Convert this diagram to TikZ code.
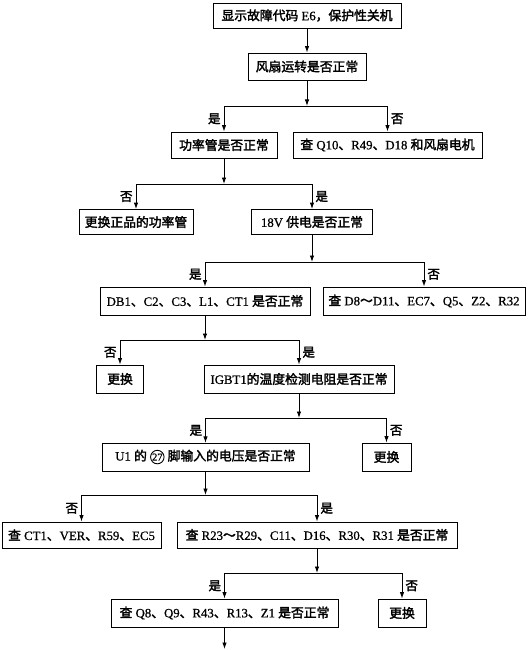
\documentclass[tikz,border=0pt]{standalone}
\usepackage{fontspec}
\setmainfont{Liberation Serif}[FakeBold=0.8]
\newfontfamily\cjk{Noto Sans CJK SC}[FakeBold=2.2]
\usetikzlibrary{arrows.meta}
\tikzset{>={Latex[width=4.5pt,length=6.5pt]}}
\newcommand{\zh}[1]{{\cjk #1}}
\newcommand{\pinno}[1]{\tikz[baseline=(pn.base)]\node[circle,draw,line width=0.9pt,minimum size=13.5pt,inner sep=0pt,font=\fontsize{10.5}{11}\selectfont] (pn) {#1};}

\begin{document}
\begin{tikzpicture}[x=1pt,y=-1pt,line width=0.9pt,
		box/.style={draw,minimum height=26pt,inner sep=2pt,font=\fontsize{12.8}{14}\selectfont},
		lab/.style={font=\fontsize{12.5}{14}\selectfont\cjk,inner sep=3pt}]
			\useasboundingbox (0,0) rectangle (529,650);
			
			% boxes
			\node[box,minimum width=188pt,minimum height=25pt] (fault) at (307,15.5) {\zh{显示故障代码} E6\zh{，保护性关机}};
			\node[box,minimum width=118pt,minimum height=27pt] (fan) at (307,66.5) {\zh{风扇运转是否正常}};
			\node[box,minimum width=106pt] (tube) at (224,145) {\zh{功率管是否正常}};
			\node[box,minimum width=189pt] (chkfan) at (387.5,145) {\zh{查} Q10\zh{、}R49\zh{、}D18 \zh{和风扇电机}};
			\node[box,minimum width=114pt,minimum height=25pt] (newtube) at (136,222) {\zh{更换正品的功率管}};
			\node[box,minimum width=121pt,minimum height=25pt] (supply) at (312,222) {18V \zh{供电是否正常}};
			\node[box,minimum width=210pt,minimum height=28pt] (bridge) at (205,301) {DB1\zh{、}C2\zh{、}C3\zh{、}L1\zh{、}CT1 \zh{是否正常}};
			\node[box,minimum width=202pt,minimum height=28pt] (chkpsu) at (424,301) {\zh{查} D8\zh{～}D11\zh{、}EC7\zh{、}Q5\zh{、}Z2\zh{、}R32};
			\node[box,minimum width=47pt,minimum height=28pt] (rep1) at (120,379) {\zh{更换}};
			\node[box,minimum width=190pt,minimum height=28pt] (igbt) at (299,379) {IGBT1\zh{的温度检测电阻是否正常}};
			\node[box,minimum width=207pt,minimum height=28pt] (pin) at (205.5,457) {U1 \zh{的} \pinno{27} \zh{脚输入的电压是否正常}};
			\node[box,minimum width=49pt,minimum height=28pt] (rep2) at (386.5,457) {\zh{更换}};
			\node[box,minimum width=159pt] (chkct) at (81.5,535) {\zh{查} CT1\zh{、}VER\zh{、}R59\zh{、}EC5};
			\node[box,minimum width=280pt] (chkr) at (317,535) {\zh{查} R23\zh{～}R29\zh{、}C11\zh{、}D16\zh{、}R30\zh{、}R31 \zh{是否正常}};
			\node[box,minimum width=227pt,minimum height=28pt] (chkq) at (224.5,613) {\zh{查} Q8\zh{、}Q9\zh{、}R43\zh{、}R13\zh{、}Z1 \zh{是否正常}};
			\node[box,minimum width=48pt,minimum height=28pt] (rep3) at (402,613) {\zh{更换}};
			
			% junctions
			\coordinate (j1) at (fan.south |- 0,106);
			\coordinate (j2) at (tube.south |- 0,184);
			\coordinate (j3) at (supply.south |- 0,262);
			\coordinate (j4) at (bridge.south |- 0,340);
			\coordinate (j5) at (igbt.south |- 0,418);
			\coordinate (j6) at (pin.south |- 0,495);
			\coordinate (j7) at (chkr.south |- 0,573);
			\coordinate (end) at (chkq.south |- 0,649);
			
			% connectors
			\draw[->] (fault) -- (fan);
			\draw[->] (fan.south) -- (j1);
			\draw[->] (j1) -| node[lab,pos=0.75,left]{是} (tube.north);
			\draw[->] (j1) -| node[lab,pos=0.75,right]{否} (chkfan.north);
			\draw[->] (tube.south) -- (j2);
			\draw[->] (j2) -| node[lab,pos=0.75,left]{否} (newtube.north);
			\draw[->] (j2) -| node[lab,pos=0.75,right]{是} (supply.north);
			\draw[->] (supply.south) -- (j3);
			\draw[->] (j3) -| node[lab,pos=0.75,left]{是} (bridge.north);
			\draw[->] (j3) -| node[lab,pos=0.75,right]{否} (chkpsu.north);
			\draw[->] (bridge.south) -- (j4);
			\draw[->] (j4) -| node[lab,pos=0.75,left]{否} (rep1.north);
			\draw[->] (j4) -| node[lab,pos=0.75,right]{是} (igbt.north);
			\draw[->] (igbt.south) -- (j5);
			\draw[->] (j5) -| node[lab,pos=0.75,left]{是} (pin.north);
			\draw[->] (j5) -| node[lab,pos=0.75,right]{否} (rep2.north);
			\draw[->] (pin.south) -- (j6);
			\draw[->] (j6) -| node[lab,pos=0.75,left]{否} (chkct.north);
			\draw[->] (j6) -| node[lab,pos=0.75,right]{是} (chkr.north);
			\draw[->] (chkr.south) -- (j7);
			\draw[->] (j7) -| node[lab,pos=0.75,left]{是} (chkq.north);
			\draw[->] (j7) -| node[lab,pos=0.75,right]{否} (rep3.north);
			\draw[->] (chkq.south) -- (end);
\end{tikzpicture}
\end{document}
